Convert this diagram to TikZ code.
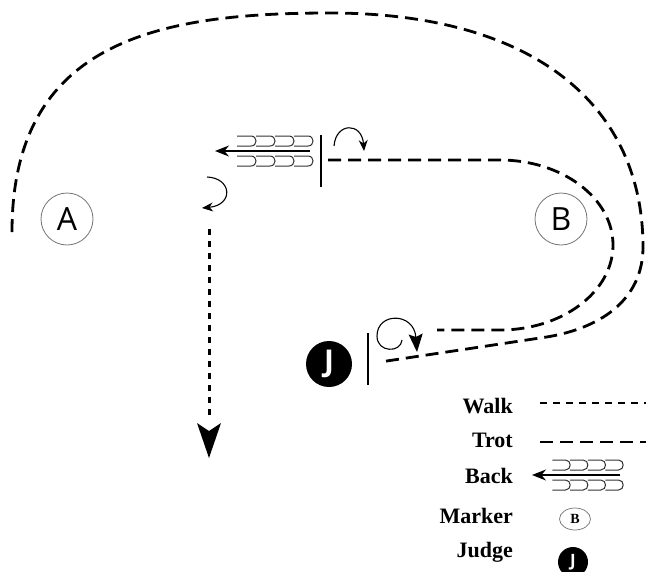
\documentclass[tikz,border=0pt]{standalone}
\usepackage{fontspec}
\setmainfont{Liberation Serif}
\newfontfamily\markfont{Open Sans}
\usetikzlibrary{arrows.meta,shapes.geometric}
\tikzset{
 trot/.style={line width=2.8pt, dash pattern=on 13pt off 7pt},
 walk/.style={line width=3pt, dash pattern=on 6pt off 6pt},
 marker/.style={circle, draw=black!55, line width=0.8pt, minimum size=52pt, inner sep=0pt, font=\markfont\fontsize{32}{32}\selectfont},
 judge/.style={circle, fill=black, minimum size=46pt, inner sep=0pt, text=white, font=\markfont\bfseries\fontsize{30}{30}\selectfont},
 bar/.style={line width=2.8pt},
 turn/.style={line width=1.1pt, -{Stealth[length=11pt,width=9pt]}},
 bigturn/.style={line width=1.1pt, -{Stealth[length=18pt,width=14pt,inset=3pt]}},
 legtext/.style={anchor=base east, inner sep=0pt, font=\bfseries\fontsize{22}{22}\selectfont},
 ushape/.style={line width=1pt, draw=black!80},
 backsym/.pic={
   \draw[line width=1.3pt, -{Stealth[length=14pt,width=11pt]}] (95,0) -- (0,0);
   \foreach \a in {22,41,60,79} {
     \draw[ushape] (\a,-15) -- (\a+14,-15) .. controls (\a+20.7,-15) and (\a+20.7,-5) .. (\a+14,-5) -- (\a,-5);
     \draw[ushape] (\a,5) -- (\a+14,5) .. controls (\a+20.7,5) and (\a+20.7,15) .. (\a+14,15) -- (\a,15);
   }
 }
}
\begin{document}
\begin{tikzpicture}[x=1pt,y=-1pt]
\useasboundingbox (0,0) rectangle (646,571);
% markers and judge
\node[marker] (A) at (67,219) {A};
\node[marker] (B) at (561,219) {B};
\node[judge] (J) at (329,364) {J};
% outer trot path
\coordinate (o1) at (12,232);
\coordinate (o2) at (330,13);
\coordinate (o3) at (643,247);
\coordinate (o4) at (540,338);
\coordinate (o5) at (380,362);
\draw[trot] (o1) .. controls (12,40) and (160,13) .. (o2)
  .. controls (540,13) and (643,110) .. (o3)
  .. controls (643,300) and (600,330) .. (o4) -- (o5);
% inner trot path
\coordinate (i1) at (328,160);
\coordinate (i2) at (500,160);
\coordinate (i3) at (613,245);
\coordinate (i4) at (500,330);
\coordinate (i5) at (437,330);
\draw[trot] (i1) -- (i2) .. controls (562,160) and (613,198) .. (i3)
  .. controls (613,292) and (562,330) .. (i4) -- (i5);
% bars
\coordinate (b1t) at (321,135); \coordinate (b1b) at (321,187);
\coordinate (b2t) at (368,333); \coordinate (b2b) at (368,385);
\draw[bar] (b1t) -- (b1b);
\draw[bar] (b2t) -- (b2b);
% back symbol
\pic at (215,151) {backsym};
% turn arrows
\coordinate (t1s) at (334,146); \coordinate (t1e) at (364,151);
\draw[turn] (t1s) .. controls (336,122) and (362,122) .. (t1e);
\coordinate (t2s) at (207,177); \coordinate (t2e) at (202,208);
\draw[turn] (t2s) .. controls (232,178) and (234,205) .. (t2e);
\coordinate (t3s) at (402,340); \coordinate (t3m) at (377,336); \coordinate (t3e) at (417,352);
\draw[bigturn] (t3s) .. controls (401,353) and (377,353) .. (t3m)
  .. controls (377,312) and (414,312) .. (t3e);
% walk line with arrowhead
\coordinate (w1) at (209,229);
\coordinate (w2) at (209,416);
\coordinate (wt) at (209,458);
\draw[walk] (w1) -- (w2);
\fill (wt) -- (221,423) -- (209,431) -- (197,423) -- cycle;
% legend
\node[legtext] (lw) at (513,413) {Walk};
\node[legtext] (lt) at (513,447) {Trot};
\node[legtext] (lb) at (513,483) {Back};
\node[legtext] (lm) at (513,523) {Marker};
\node[legtext] (lj) at (513,557) {Judge};
\coordinate (lw1) at (540,403); \coordinate (lw2) at (646,403);
\draw[line width=2.6pt, dash pattern=on 7pt off 6pt] (lw1) -- (lw2);
\coordinate (lt1) at (540,442); \coordinate (lt2) at (646,442);
\draw[trot] (lt1) -- (lt2);
\pic[xscale=0.93] at (532,475) {backsym};
\node[ellipse, draw=black!55, line width=0.7pt, minimum width=31pt, minimum height=22pt, inner sep=0pt, font=\bfseries\fontsize{14}{14}\selectfont] (lB) at (575,519) {B};
\node[circle, fill=black, minimum size=30pt, inner sep=0pt, text=white, font=\markfont\bfseries\fontsize{17}{17}\selectfont] (lJ) at (573,562) {J};
\end{tikzpicture}
\end{document}
